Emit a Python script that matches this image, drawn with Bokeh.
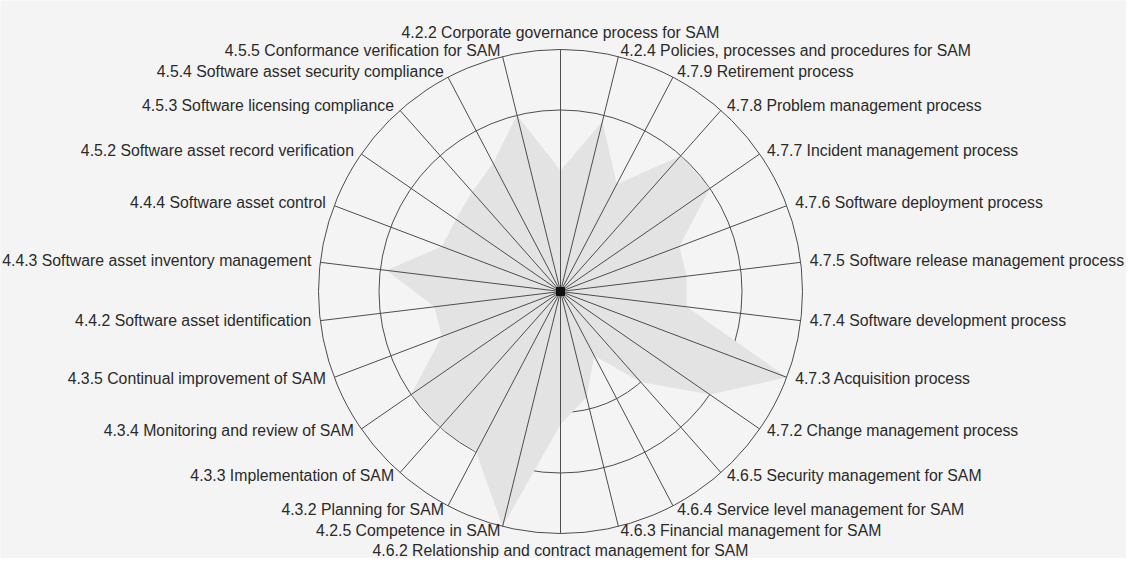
import numpy as np
from bokeh.plotting import figure
from bokeh.models import Range1d, ColumnDataSource
from bokeh.embed import file_html
from bokeh.resources import INLINE
from bokeh.core.properties import value

categories = [
    "4.2.2 Corporate governance process for SAM",
    "4.2.4 Policies, processes and procedures for SAM",
    "4.7.9 Retirement process",
    "4.7.8 Problem management process",
    "4.7.7 Incident management process",
    "4.7.6 Software deployment process",
    "4.7.5 Software release management process",
    "4.7.4 Software development process",
    "4.7.3 Acquisition process",
    "4.7.2 Change management process",
    "4.6.5 Security management for SAM",
    "4.6.4 Service level management for SAM",
    "4.6.3 Financial management for SAM",
    "4.6.2 Relationship and contract management for SAM",
    "4.2.5 Competence in SAM",
    "4.3.2 Planning for SAM",
    "4.3.3 Implementation of SAM",
    "4.3.4 Monitoring and review of SAM",
    "4.3.5 Continual improvement of SAM",
    "4.4.2 Software asset identification",
    "4.4.3 Software asset inventory management",
    "4.4.4 Software asset control",
    "4.5.2 Software asset record verification",
    "4.5.3 Software licensing compliance",
    "4.5.4 Software asset security compliance",
    "4.5.5 Conformance verification for SAM",
]
scores = [2.0, 2.9, 2.0, 3.0, 3.0, 2.1, 2.1, 2.1, 4.0, 3.0, 2.0, 1.2, 1.8,
          2.2, 4.0, 3.0, 3.0, 3.0, 2.1, 2.1, 2.9, 2.1, 2.1, 2.2, 2.4, 3.0]
ring_levels = [1, 2, 3, 4]
max_level = 4

W, H = 1126, 558
CX, CY = 560, 291
UNIT = 60.5
BG = "#f4f4f4"
LINE = "#4d4d4d"

p = figure(width=W, height=H, output_backend="svg", toolbar_location=None,
           x_range=Range1d(-CX, W - CX), y_range=Range1d(-(H - CY), CY),
           x_axis_type=None, y_axis_type=None, min_border=0)
p.background_fill_color = BG
p.border_fill_color = BG
p.outline_line_color = None
p.xgrid.visible = False
p.ygrid.visible = False

n = len(categories)
ang = np.arange(n) * 2 * np.pi / n
sx, cy = np.sin(ang), np.cos(ang)

# inner rings (under the fill)
p.circle(x=[0] * 3, y=[0] * 3, radius=[lv * UNIT for lv in ring_levels[:-1]],
         fill_color=None, line_color=LINE, line_width=1)

# filled area
r = np.array(scores) * UNIT
p.patch(x=list(r * sx), y=list(r * cy), fill_color="#e3e3e3", line_color=None)

# outer ring
p.circle(x=[0], y=[0], radius=[max_level * UNIT], fill_color=None,
         line_color=LINE, line_width=1)

# spokes
R = max_level * UNIT
p.segment(x0=[0] * n, y0=[0] * n, x1=list(R * sx), y1=list(R * cy),
          line_color=LINE, line_width=1)

p.scatter(x=[0], y=[0], marker="square", size=8, color="#111111")

# labels
groups = {"left": ([], [], []), "right": ([], [], []), "center": ([], [], [])}
for i, lab in enumerate(categories):
    if abs(sx[i]) < 0.01:
        key = "center"
        x, y = 0.0, 259.0 * np.sign(cy[i])
    else:
        key = "left" if sx[i] > 0 else "right"
        x, y = 251.0 * sx[i], 247.0 * cy[i] + 1.0
    groups[key][0].append(x)
    groups[key][1].append(y)
    groups[key][2].append(lab)

for align, (xs, ys, ts) in groups.items():
    src = ColumnDataSource(dict(x=xs, y=ys, t=ts))
    p.text(x="x", y="y", text="t", source=src, text_align=align,
           text_baseline="middle", text_font=value("Liberation Sans"),
           text_font_size="15.8px", text_color="#2a2a2a")

open("out.html", "w").write(file_html(p, INLINE))
